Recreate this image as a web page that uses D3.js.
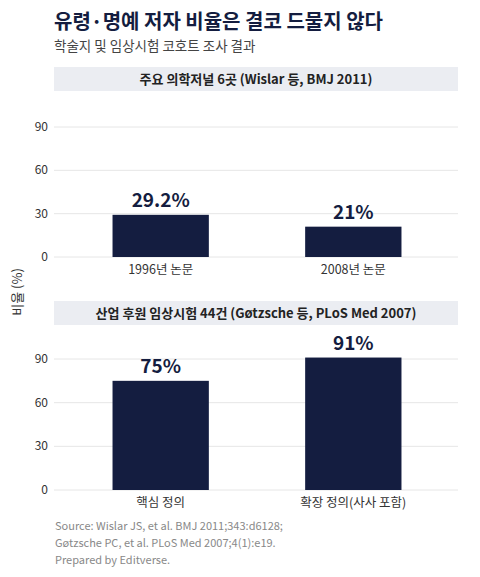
<!DOCTYPE html><html><head><meta charset="utf-8"><script src="https://d3js.org/d3.v7.min.js"></script>
<style>body{margin:0;background:#fff;font-family:"Noto Sans CJK KR","Noto Sans",sans-serif}</style></head><body><svg id="c" width="480" height="577"></svg><script>
const panel1Title="주요 의학저널 6곳 (Wislar 등, BMJ 2011)";
const panel1Cats=["1996년 논문","2008년 논문"];
const panel1Vals=[29.2,21];
const panel1Labels=["29.2%","21%"];
const panel2Title="산업 후원 임상시험 44건 (Gøtzsche 등, PLoS Med 2007)";
const panel2Cats=["핵심 정의","확장 정의(사사 포함)"];
const panel2Vals=[75,91];
const panel2Labels=["75%","91%"];
const yTicks=[0,30,60,90];
const svg=d3.select("#c");
const navy="#141d40";
svg.append("text").attr("x",54).attr("y",29).attr("font-size",20).attr("font-weight",700).attr("fill","#141d40").text("유령·명예 저자 비율은 결코 드물지 않다");
svg.append("text").attr("x",54).attr("y",51).attr("font-size",13.5).attr("fill","#444").text("학술지 및 임상시험 코호트 조사 결과");
function panel(top,title,cats,vals,labels,y0,y90){
  svg.append("rect").attr("x",54).attr("y",top).attr("width",404).attr("height",24).attr("fill","#ebedf2");
  svg.append("text").attr("x",256).attr("y",top+17).attr("text-anchor","middle").attr("font-size",13).attr("font-weight",700).attr("fill","#222").text(title);
  const y=d3.scaleLinear().domain([0,90]).range([y0,y90]);
  const x=d3.scaleBand().domain(cats).range([74,440]).paddingInner(0.5).paddingOuter(0.2);
  yTicks.forEach(t=>{
    svg.append("line").attr("x1",54).attr("x2",458).attr("y1",y(t)).attr("y2",y(t)).attr("stroke","#e6e6e6");
    svg.append("text").attr("x",48).attr("y",y(t)+4).attr("text-anchor","end").attr("font-size",12).attr("fill","#333").text(t);
  });
  cats.forEach((c,i)=>{
    svg.append("rect").attr("x",x(c)).attr("width",x.bandwidth()).attr("y",y(vals[i])).attr("height",y(0)-y(vals[i])).attr("fill",navy);
    svg.append("text").attr("x",x(c)+x.bandwidth()/2).attr("y",y(vals[i])-8).attr("text-anchor","middle").attr("font-size",19).attr("font-weight",700).attr("fill",navy).text(labels[i]);
    svg.append("text").attr("x",x(c)+x.bandwidth()/2).attr("y",y0+17).attr("text-anchor","middle").attr("font-size",12.5).attr("fill","#333").text(c);
  });
}
panel(67,panel1Title,panel1Cats,panel1Vals,panel1Labels,257,127);
panel(301,panel2Title,panel2Cats,panel2Vals,panel2Labels,490,359);
svg.append("text").attr("transform","translate(22,292) rotate(-90)").attr("text-anchor","middle").attr("font-size",13).attr("fill","#333").text("비율 (%)");
["Source: Wislar JS, et al. BMJ 2011;343:d6128;","Gøtzsche PC, et al. PLoS Med 2007;4(1):e19.","Prepared by Editverse."].forEach((s,i)=>
  svg.append("text").attr("x",55).attr("y",530+i*17).attr("font-size",11).attr("fill","#888").text(s));
</script></body></html>
